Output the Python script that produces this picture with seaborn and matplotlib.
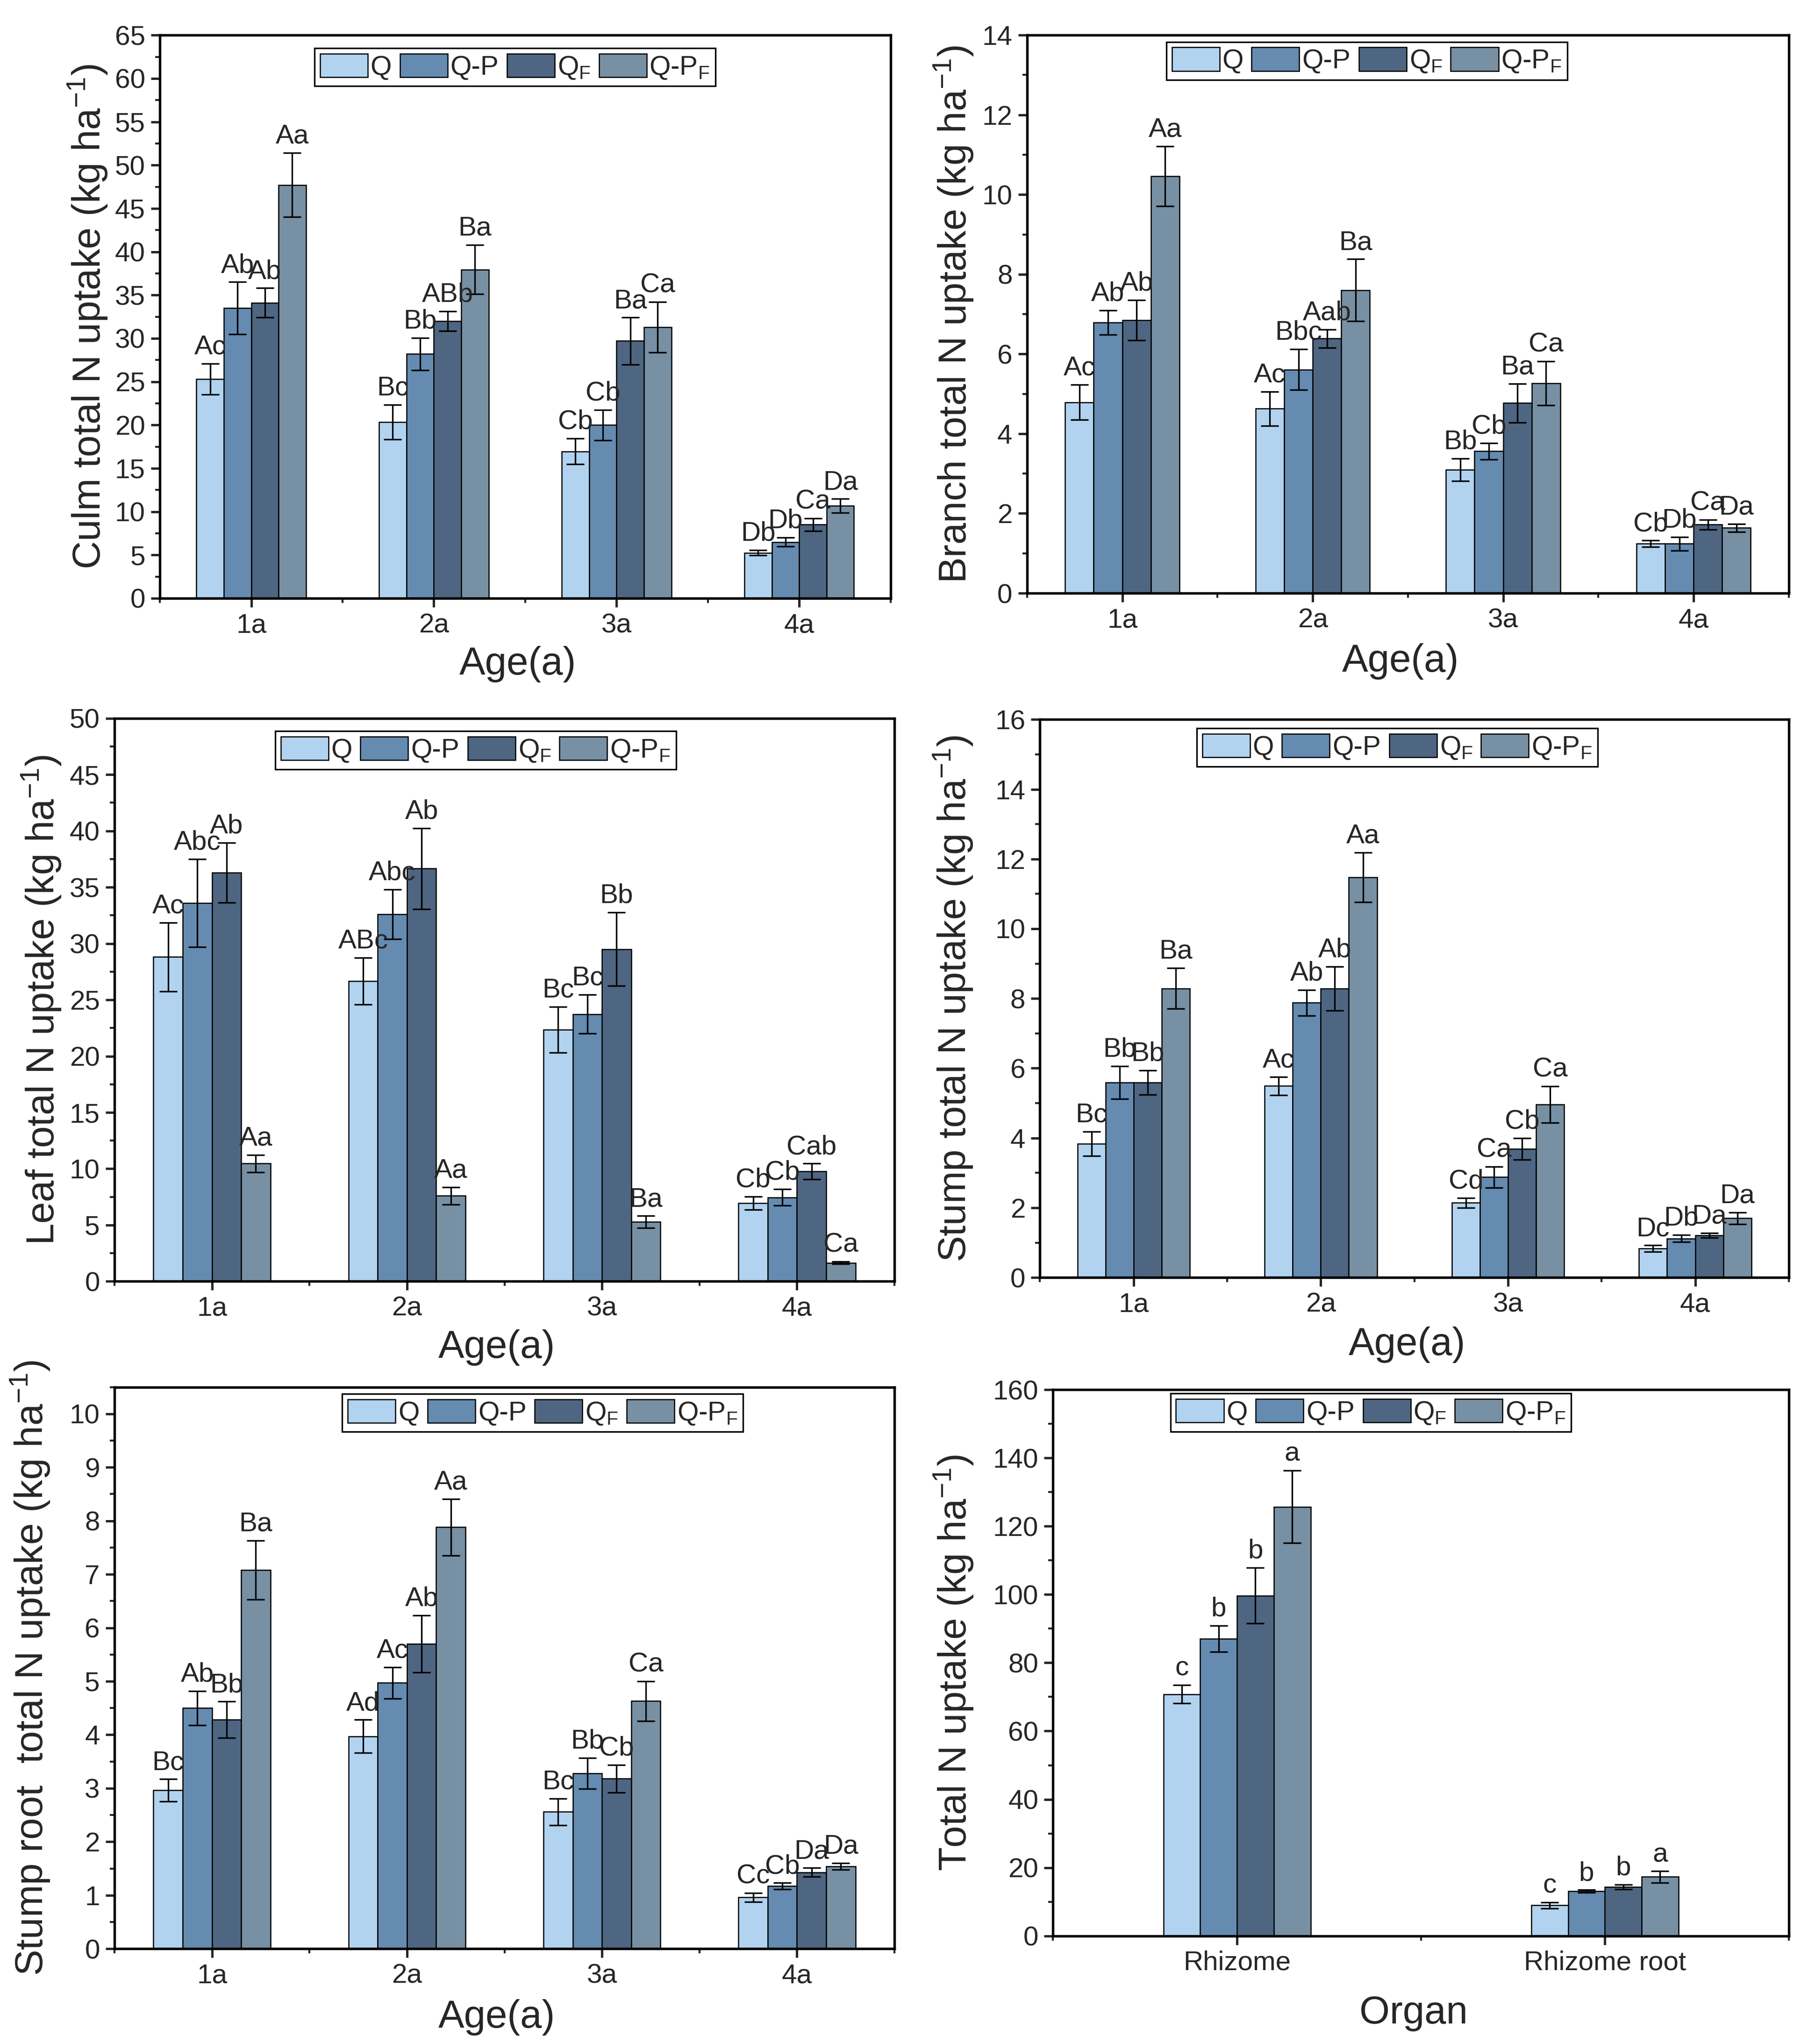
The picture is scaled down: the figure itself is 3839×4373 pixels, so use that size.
import numpy as np
import pandas as pd
import matplotlib
matplotlib.use("Agg")
import matplotlib.pyplot as plt
import seaborn as sns
from matplotlib.ticker import MultipleLocator, FixedLocator

ages = ["1a", "2a", "3a", "4a"]
organs = ["Rhizome", "Rhizome root"]
treatments = ["Q", "Q-P", "QF", "Q-PF"]
legend_labels = ["Q", "Q-P", r"Q$_\mathregular{F}$", r"Q-P$_\mathregular{F}$"]
colors = ["#B2D3EF", "#658BB0", "#4E6681", "#7890A3"]

# rows = treatment (Q, Q-P, QF, Q-PF), columns = category
culm_mean = [[25.3, 20.35, 16.96, 5.24],
             [33.5, 28.2, 20.0, 6.5],
             [34.1, 32.0, 29.7, 8.5],
             [47.7, 37.95, 31.3, 10.67]]
culm_err = [[1.8, 2.0, 1.5, 0.3],
            [3.0, 1.85, 1.75, 0.5],
            [1.7, 1.15, 2.7, 0.75],
            [3.7, 2.85, 2.9, 0.8]]
culm_lab = [["Ac", "Bc", "Cb", "Db"],
            ["Ab", "Bb", "Cb", "Db"],
            ["Ab", "ABb", "Ba", "Ca"],
            ["Aa", "Ba", "Ca", "Da"]]

branch_mean = [[4.79, 4.63, 3.10, 1.24],
               [6.79, 5.61, 3.56, 1.24],
               [6.85, 6.39, 4.77, 1.72],
               [10.46, 7.6, 5.27, 1.64]]
branch_err = [[0.44, 0.43, 0.28, 0.08],
              [0.31, 0.51, 0.21, 0.17],
              [0.5, 0.23, 0.49, 0.12],
              [0.75, 0.78, 0.55, 0.1]]
branch_lab = [["Ac", "Ac", "Bb", "Cb"],
              ["Ab", "Bbc", "Cb", "Db"],
              ["Ab", "Aab", "Ba", "Ca"],
              ["Aa", "Ba", "Ca", "Da"]]

leaf_mean = [[28.8, 26.65, 22.35, 6.96],
             [33.6, 32.6, 23.73, 7.46],
             [36.3, 36.65, 29.5, 9.77],
             [10.46, 7.6, 5.27, 1.65]]
leaf_err = [[3.05, 2.08, 2.05, 0.58],
            [3.9, 2.2, 1.73, 0.73],
            [2.65, 3.6, 3.27, 0.69],
            [0.77, 0.77, 0.54, 0.1]]
leaf_lab = [["Ac", "ABc", "Bc", "Cb"],
            ["Abc", "Abc", "Bc", "Cb"],
            ["Ab", "Ab", "Bb", "Cab"],
            ["Aa", "Aa", "Ba", "Ca"]]

stump_mean = [[3.83, 5.49, 2.14, 0.83],
              [5.59, 7.88, 2.88, 1.12],
              [5.59, 8.28, 3.69, 1.21],
              [8.29, 11.48, 4.96, 1.7]]
stump_err = [[0.35, 0.26, 0.14, 0.09],
             [0.47, 0.37, 0.3, 0.1],
             [0.35, 0.63, 0.31, 0.07],
             [0.58, 0.71, 0.52, 0.17]]
stump_lab = [["Bc", "Ac", "Cd", "Dc"],
             ["Bb", "Ab", "Ca", "Db"],
             ["Bb", "Ab", "Cb", "Da"],
             ["Ba", "Aa", "Ca", "Da"]]

root_mean = [[2.96, 3.97, 2.56, 0.96],
             [4.5, 4.97, 3.28, 1.17],
             [4.28, 5.7, 3.18, 1.43],
             [7.08, 7.88, 4.63, 1.54]]
root_err = [[0.21, 0.31, 0.25, 0.08],
            [0.32, 0.29, 0.29, 0.06],
            [0.34, 0.53, 0.26, 0.08],
            [0.55, 0.53, 0.37, 0.06]]
root_lab = [["Bc", "Ad", "Bc", "Cc"],
            ["Ab", "Ac", "Bb", "Cb"],
            ["Bb", "Ab", "Cb", "Da"],
            ["Ba", "Aa", "Ca", "Da"]]

total_mean = [[70.8, 8.96],
              [87.0, 13.06],
              [99.7, 14.34],
              [125.7, 17.28]]
total_err = [[2.7, 0.9],
             [3.85, 0.4],
             [8.2, 0.64],
             [10.6, 1.66]]
total_lab = [["c", "c"],
             ["b", "b"],
             ["b", "b"],
             ["a", "a"]]

sns.set_style("ticks")
plt.rcParams["font.family"] = ["Liberation Sans", "DejaVu Sans"]
plt.rcParams["mathtext.fontset"] = "custom"
plt.rcParams["mathtext.rm"] = "Liberation Sans"
plt.rcParams["mathtext.default"] = "regular"

fig = plt.figure(figsize=(3839 / 300, 4373 / 300), dpi=300)


def draw_panel(rect, cats, means, errs, labels, ylabel, xlabel, ymax, major, minor,
               width, leg_x, leg_y, ylab_x, xlab_y):
    ax = fig.add_axes(rect)
    rows = []
    for t, trt in enumerate(treatments):
        for c, cat in enumerate(cats):
            rows.append({"cat": cat, "trt": trt, "val": means[t][c]})
    df = pd.DataFrame(rows)

    sns.barplot(data=df, x="cat", y="val", hue="trt", order=cats,
                hue_order=treatments, palette=colors, saturation=1,
                width=width, edgecolor="black", linewidth=0.6,
                errorbar=None, ax=ax)

    bar_groups = list(ax.containers)
    for t, cont in enumerate(bar_groups):
        for c, bar in enumerate(cont.patches):
            x = bar.get_x() + bar.get_width() / 2
            h = bar.get_height()
            e = errs[t][c]
            ax.errorbar(x, h, yerr=e, fmt="none", ecolor="black",
                        elinewidth=0.8, capsize=4.5, capthick=0.8)
            ax.annotate(labels[t][c], (x, h + e), xytext=(0, 2),
                        textcoords="offset points", ha="center", va="bottom",
                        fontsize=14)

    handles, _ = ax.get_legend_handles_labels()
    ax.legend(handles[:4], legend_labels, ncol=4, loc="upper center",
              bbox_to_anchor=(leg_x, leg_y), borderaxespad=0,
              frameon=True, fancybox=False,
              edgecolor="black", framealpha=1, fontsize=14,
              handlelength=1.75, handleheight=0.95, handletextpad=0.1,
              columnspacing=0.3, borderpad=0.2)
    ax.get_legend().get_frame().set_linewidth(0.8)

    ax.set_xlim(-0.5, len(cats) - 0.5)
    ax.set_ylim(0, ymax)
    ax.yaxis.set_major_locator(MultipleLocator(major))
    ax.yaxis.set_minor_locator(MultipleLocator(minor))
    ax.xaxis.set_minor_locator(FixedLocator(np.arange(-0.5, len(cats), 1.0)))

    ax.set_ylabel(ylabel, fontsize=20)
    ax.set_xlabel(xlabel, fontsize=20)
    ax.yaxis.set_label_coords(-ylab_x, 0.5)
    ax.xaxis.set_label_coords(0.49, -xlab_y)

    ax.tick_params(axis="both", which="major", direction="out", length=4.5,
                   width=1.2, labelsize=14, pad=3)
    ax.tick_params(axis="both", which="minor", direction="out", length=2.5,
                   width=1.0)
    for sp in ax.spines.values():
        sp.set_visible(True)
        sp.set_linewidth(1.3)
        sp.set_color("black")
    return ax


draw_panel([0.0891, 0.7073, 0.4073, 0.2755], ages, culm_mean, culm_err, culm_lab,
           "Culm total N uptake (kg ha$^{-1}$)", "Age(a)", 65, 5, 2.5,
           0.6, 0.486, 0.977, 0.069, 0.085)
draw_panel([0.5725, 0.7098, 0.4246, 0.2730], ages, branch_mean, branch_err, branch_lab,
           "Branch total N uptake (kg ha$^{-1}$)", "Age(a)", 14, 2, 1,
           0.6, 0.446, 0.988, 0.068, 0.09)
draw_panel([0.0638, 0.3731, 0.4348, 0.2755], ages, leaf_mean, leaf_err, leaf_lab,
           "Leaf total N uptake (kg ha$^{-1}$)", "Age(a)", 50, 5, 2.5,
           0.6, 0.463, 0.977, 0.066, 0.085)
draw_panel([0.5797, 0.3750, 0.4174, 0.2730], ages, stump_mean, stump_err, stump_lab,
           "Stump total N uptake (kg ha$^{-1}$)", "Age(a)", 16, 2, 1,
           0.6, 0.477, 0.984, 0.087, 0.088)
draw_panel([0.0638, 0.0466, 0.4348, 0.2748], ages, root_mean, root_err, root_lab,
           "Stump root  total N uptake (kg ha$^{-1}$)", "Age(a)", 10.5, 1, 0.5,
           0.6, 0.549, 0.988, 0.08, 0.09)
draw_panel([0.5870, 0.0529, 0.4101, 0.2672], organs, total_mean, total_err, total_lab,
           "Total N uptake (kg ha$^{-1}$)", "Organ", 160, 20, 10,
           0.4, 0.432, 0.993, 0.106, 0.108)

fig.savefig("out.png", dpi=300)
